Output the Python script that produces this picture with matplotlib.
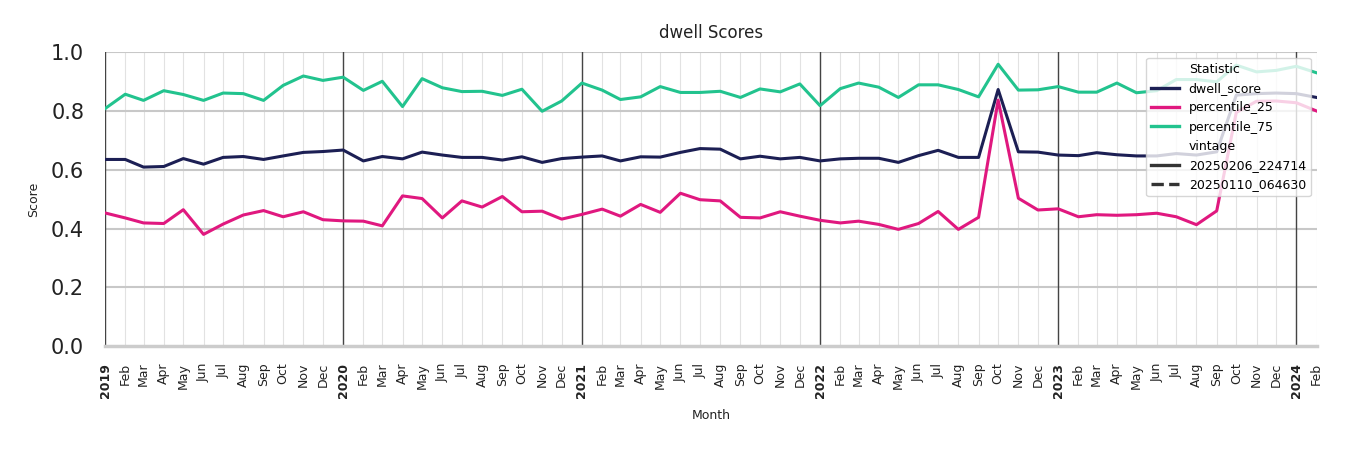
import pandas as pd
import matplotlib
matplotlib.use('Agg')
import matplotlib.pyplot as plt
from matplotlib.lines import Line2D

# monthly values, Jan 2019 .. Feb 2024
months = pd.date_range('2019-01-01', '2024-02-01', freq='MS')

dwell_score = [0.635, 0.635, 0.609, 0.611, 0.638, 0.619, 0.642, 0.645, 0.635, 0.647,
               0.659, 0.662, 0.667, 0.630, 0.645, 0.637, 0.660, 0.650, 0.642, 0.642,
               0.633, 0.644, 0.625, 0.638, 0.643, 0.647, 0.630, 0.644, 0.643, 0.659,
               0.672, 0.670, 0.637, 0.646, 0.637, 0.642, 0.630, 0.637, 0.639, 0.639,
               0.625, 0.648, 0.666, 0.642, 0.642, 0.873, 0.661, 0.660, 0.650, 0.648,
               0.658, 0.651, 0.647, 0.647, 0.655, 0.650, 0.661, 0.854, 0.859, 0.861,
               0.859, 0.846]
percentile_25 = [0.453, 0.436, 0.419, 0.417, 0.464, 0.380, 0.415, 0.446, 0.461, 0.440,
                 0.457, 0.430, 0.426, 0.425, 0.409, 0.511, 0.502, 0.436, 0.494, 0.473,
                 0.509, 0.457, 0.459, 0.432, 0.448, 0.466, 0.442, 0.482, 0.455, 0.520,
                 0.498, 0.494, 0.438, 0.436, 0.457, 0.442, 0.428, 0.419, 0.425, 0.414,
                 0.397, 0.417, 0.458, 0.397, 0.438, 0.837, 0.503, 0.463, 0.467, 0.440,
                 0.447, 0.445, 0.447, 0.452, 0.440, 0.413, 0.460, 0.795, 0.833, 0.834,
                 0.828, 0.800]
percentile_75 = [0.808, 0.857, 0.836, 0.869, 0.856, 0.836, 0.861, 0.859, 0.836, 0.887,
                 0.919, 0.904, 0.915, 0.870, 0.901, 0.815, 0.910, 0.879, 0.866, 0.867,
                 0.853, 0.874, 0.799, 0.834, 0.895, 0.871, 0.839, 0.848, 0.883, 0.863,
                 0.863, 0.867, 0.846, 0.875, 0.865, 0.892, 0.818, 0.876, 0.895, 0.881,
                 0.846, 0.889, 0.889, 0.873, 0.848, 0.959, 0.871, 0.872, 0.883, 0.864,
                 0.864, 0.895, 0.862, 0.869, 0.907, 0.907, 0.899, 0.956, 0.933, 0.938,
                 0.952, 0.930]

series = {'dwell_score': (dwell_score, '#1c1f54'),
          'percentile_25': (percentile_25, '#e0187f'),
          'percentile_75': (percentile_75, '#22c38e')}
vintages = ['20250206_224714', '20250110_064630']

fig = plt.figure(figsize=(13.5, 4.5), dpi=100)
ax = fig.add_axes([0.0778, 0.231, 0.8974, 0.653])

# month grid + year separators
for m in months:
    ax.axvline(m, color='#e2e2e2', lw=0.8, zorder=0)
for yv in [0.2, 0.4, 0.6, 0.8, 1.0]:
    ax.axhline(yv, color='#c8c8c8', lw=1.5, zorder=0)
for m in months[months.month == 1]:
    ax.axvline(m, color='#444444', lw=1.0, zorder=1)

for name, (vals, col) in series.items():
    ax.plot(months, vals, color=col, lw=2.2, zorder=3)

ax.set_xlim(months[0], months[-1])
ax.set_ylim(0, 1)

ax.set_yticks([0.0, 0.2, 0.4, 0.6, 0.8, 1.0])
ax.set_yticklabels(['0.0', '0.2', '0.4', '0.6', '0.8', '1.0'], fontsize=15, color='#222222')
ax.tick_params(axis='y', length=0, pad=15)

labels = [m.strftime('%Y') if m.month == 1 else m.strftime('%b') for m in months]
ax.set_xticks(months)
ax.set_xticklabels(labels, rotation=90, fontsize=9, color='#222222')
for lab, m in zip(ax.get_xticklabels(), months):
    if m.month == 1:
        lab.set_fontweight('bold')
ax.tick_params(axis='x', length=0, pad=12)

for s in ['top', 'right', 'left']:
    ax.spines[s].set_visible(False)
ax.spines['bottom'].set_color('#cccccc')
ax.spines['bottom'].set_linewidth(2.5)

ax.set_title('dwell Scores', fontsize=12, color='#222222', pad=10)
ax.set_ylabel('Score', fontsize=9, color='#222222', labelpad=8)
ax.set_xlabel('Month', fontsize=9, color='#222222', labelpad=8)

blank = Line2D([], [], color='none')
handles = [blank] + [Line2D([], [], color=c, lw=2.4) for _, c in series.values()]
handles += [blank, Line2D([], [], color='#333333', lw=2.4),
            Line2D([], [], color='#333333', lw=2.4, ls='--')]
names = ['Statistic'] + list(series.keys()) + ['vintage'] + vintages
leg = ax.legend(handles, names, loc='upper right', fontsize=9, framealpha=0.8,
                edgecolor='#cccccc', handlelength=2.2, borderaxespad=0.45,
                labelspacing=0.5)
leg.set_zorder(5)

fig.savefig('out.png', dpi=100)
